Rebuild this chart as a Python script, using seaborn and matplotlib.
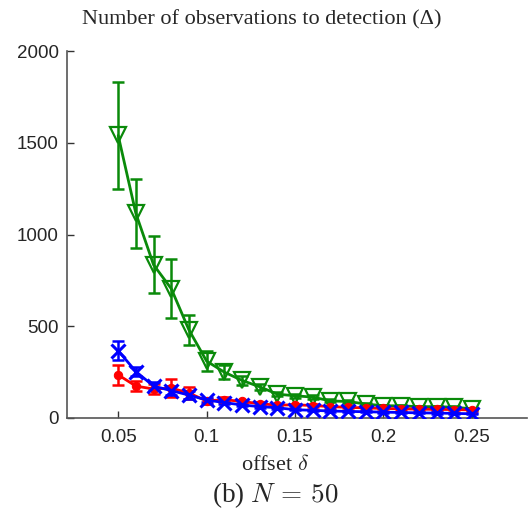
import numpy as np
import pandas as pd
import matplotlib
matplotlib.use("Agg")
import matplotlib.pyplot as plt
import seaborn as sns

offset = [0.05, 0.06, 0.07, 0.08, 0.09, 0.10, 0.11, 0.12, 0.13, 0.14, 0.15,
          0.16, 0.17, 0.18, 0.19, 0.20, 0.21, 0.22, 0.23, 0.24, 0.25]

green_mean = [1540, 1115, 835, 705, 480, 310, 250, 205, 170, 130, 121,
              114, 93, 90, 76, 67, 66, 62, 62, 59, 50]
green_err = [290, 190, 155, 160, 80, 55, 40, 25, 15, 12, 10,
             10, 8, 8, 7, 6, 6, 6, 6, 5, 5]

red_mean = [235, 174, 158, 163, 136, 93, 100, 90, 78, 70, 72,
            68, 62, 58, 55, 52, 50, 48, 47, 46, 44]
red_err = [55, 25, 25, 50, 35, 15, 15, 10, 8, 8, 7,
           6, 6, 5, 5, 5, 4, 4, 4, 4, 4]

blue_mean = [367, 253, 174, 149, 125, 98, 84, 71, 62, 56, 45,
             42, 38, 36, 34, 32, 30, 28, 27, 25, 23]
blue_err = [50, 25, 20, 25, 20, 10, 8, 6, 5, 5, 4,
            4, 4, 3, 3, 3, 3, 3, 3, 3, 3]

series = [
    ("green", green_mean, green_err, "#0a8a0a", "v"),
    ("red", red_mean, red_err, "#ff0000", "o"),
    ("blue", blue_mean, blue_err, "#0000ff", "x"),
]

sns.set_style("ticks")
plt.rcParams["mathtext.fontset"] = "cm"

fig = plt.figure(figsize=(5.31, 5.11), dpi=100)
ax = fig.add_axes([0.126, 0.182, 0.866, 0.718])

for name, m, e, c, mk in series:
    df = pd.DataFrame({"offset": offset, "value": m})
    ax.errorbar(offset, m, yerr=e, fmt="none", ecolor=c, elinewidth=1.8,
                capsize=4, capthick=1.8, zorder=2)
    if mk == "v":
        kw = dict(markerfacecolor="none", markeredgecolor=c, markersize=11,
                  markeredgewidth=1.6)
    elif mk == "o":
        kw = dict(markerfacecolor=c, markeredgecolor=c, markersize=6)
    else:
        kw = dict(markeredgecolor=c, markersize=10, markeredgewidth=2.2)
    sns.lineplot(data=df, x="offset", y="value", ax=ax, color=c, marker=mk,
                 linewidth=2, zorder=3, **kw)

ax.set_xlim(0.021, 0.281)
ax.set_ylim(0, 2000)
ax.set_xticks([0.05, 0.1, 0.15, 0.2, 0.25])
ax.set_xticklabels(["0.05", "0.1", "0.15", "0.2", "0.25"])
ax.set_yticks([0, 500, 1000, 1500, 2000])
ax.set_yticklabels(["0", "500", "1000", "1500", "2000"])
for lab in ax.get_xticklabels() + ax.get_yticklabels():
    lab.set_fontfamily("Liberation Sans")
    lab.set_fontsize(13.5)
ax.tick_params(axis="x", direction="in", length=5, width=1, color="#333333", pad=8)
ax.tick_params(axis="y", direction="in", length=5, width=1, color="#333333", pad=6)
sns.despine(ax=ax)
for s in ["left", "bottom"]:
    ax.spines[s].set_color("#555555")
    ax.spines[s].set_linewidth(1.2)

ax.set_xlabel("")
ax.set_ylabel("")
fig.text(262 / 531, 1 - 20 / 511, "Number of observations to detection (Δ)",
         ha="center", va="center", fontsize=16, family="Liberation Serif")
fig.text(275 / 531, 1 - 465 / 511, r"offset $\delta$", ha="center", va="center",
         fontsize=16, family="Liberation Serif")
fig.text(275 / 531, 1 - 495 / 511, r"(b) $N\,=\,50$", ha="center", va="center",
         fontsize=19.5, family="Liberation Serif")

fig.savefig("out.png", dpi=100)
